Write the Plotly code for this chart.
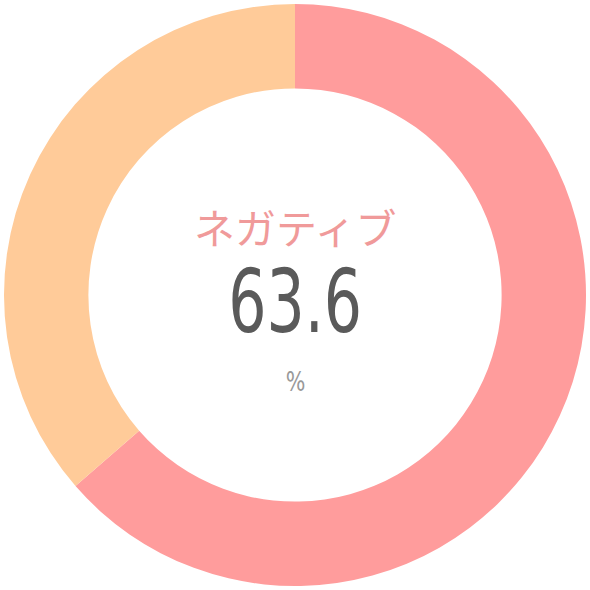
import plotly.graph_objects as go

# shares shown in the donut
labels = ["ネガティブ", "その他"]
values = [63.6, 36.4]
colors = ["#FF9C9C", "#FFCB99"]

# centre texts
title_text = "ネガティブ"
value_text = "63.6"
unit_text = "%"

fig = go.Figure(
    go.Pie(
        labels=labels,
        values=values,
        hole=0.71,
        sort=False,
        direction="clockwise",
        rotation=0,
        marker=dict(colors=colors, line=dict(width=0)),
        textinfo="none",
        hoverinfo="label+percent",
        showlegend=False,
    )
)

num_font = "DejaVu Sans Condensed, Roboto, sans-serif"

# text in the middle of the ring
fig.add_annotation(text=title_text, x=0.5, y=0.5 + 0.118, xref="paper", yref="paper",
                   showarrow=False, font=dict(family="Noto Sans CJK JP", size=41, color="#F09A9A"))
fig.add_annotation(text=value_text, x=0.5, y=0.5 - 0.012, xref="paper", yref="paper",
                   showarrow=False, font=dict(family=num_font, size=88, color="#5A5A5A"))
fig.add_annotation(text=unit_text, x=0.5, y=0.5 - 0.148, xref="paper", yref="paper",
                   showarrow=False, font=dict(family=num_font, size=27, color="#999999"))

fig.update_layout(
    width=590,
    height=590,
    margin=dict(l=4, r=4, t=4, b=4),
    paper_bgcolor="white",
    plot_bgcolor="white",
)

# no page margin; squeeze the number text so it looks like a narrow font
js = """
document.body.style.margin = '0';
document.querySelectorAll('.annotation-text').forEach(function (t) {
    var s = t.textContent === '63.6' ? 0.76 : (t.textContent === '%' ? 0.85 : 1);
    if (s !== 1) {
        t.style.transformBox = 'fill-box';
        t.style.transformOrigin = 'center';
        t.style.transform = 'scaleX(' + s + ')';
    }
});
"""
fig.write_html("out.html", post_script=js, config={"displayModeBar": False})
